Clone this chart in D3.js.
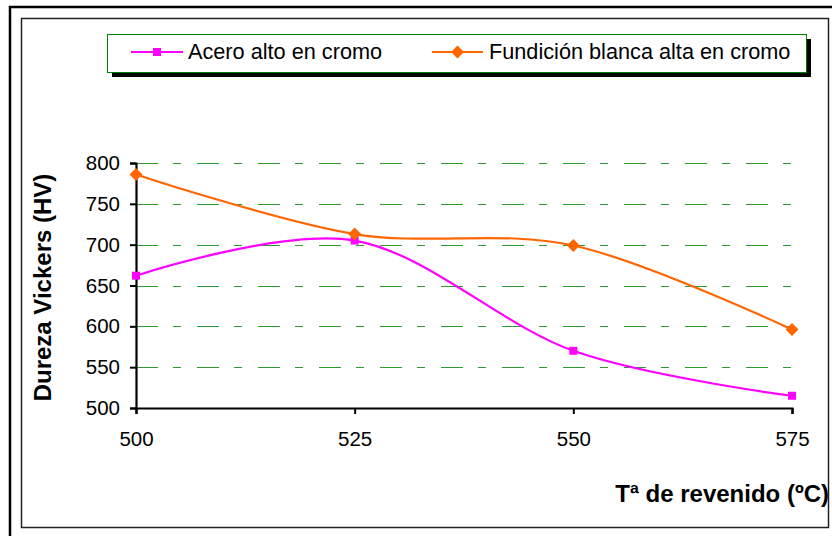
<!DOCTYPE html>
<html>
<head>
<meta charset="utf-8">
<script src="https://cdn.jsdelivr.net/npm/d3@7"></script>
<style>
  html, body { margin: 0; padding: 0; background: #fff; }
  svg { display: block; }
  text { font-family: "Liberation Sans", Arial, sans-serif; }
</style>
</head>
<body>
<svg id="chart" width="832" height="536"></svg>
<script>
// Tempering temperature (ºC) and Vickers hardness (HV)
const temps = [500, 525, 550, 575];
const aceroAltoCromo = [662, 705, 570, 515];
const fundicionBlanca = [786, 713, 699, 596];
const yTicks = [500, 550, 600, 650, 700, 750, 800];
const seriesNames = ["Acero alto en cromo", "Fundición blanca alta en cromo"];
const seriesColors = ["#ff00ff", "#ff6600"];

const svg = d3.select("#chart");

// chart frames
svg.append("rect").attr("x", 10).attr("y", 7).attr("width", 840).attr("height", 560)
  .attr("fill", "none").attr("stroke", "#000").attr("stroke-width", 2.5);
svg.append("rect").attr("x", 21.5).attr("y", 18.5).attr("width", 807).attr("height", 509)
  .attr("fill", "none").attr("stroke", "#222").attr("stroke-width", 1.5);

const x = d3.scaleLinear().domain([500, 575]).range([136, 792]);
const y = d3.scaleLinear().domain([500, 800]).range([408, 163]);

// horizontal gridlines
svg.append("g").selectAll("line").data(yTicks.filter(v => v > 500)).join("line")
  .attr("x1", x(500)).attr("x2", x(575) + 3)
  .attr("y1", d => Math.round(y(d)) + 0.5).attr("y2", d => Math.round(y(d)) + 0.5)
  .attr("stroke", "#2f9a2f").attr("stroke-width", 1.2)
  .attr("stroke-dasharray", "22,15,8,16");

// axes
const yAxis = d3.axisLeft(y).tickValues(yTicks).tickSize(6).tickPadding(10);
const gy = svg.append("g").attr("transform", `translate(${x(500)},0)`).call(yAxis);
gy.select(".domain").attr("stroke", "#000").attr("stroke-width", 2.2);
gy.selectAll(".tick line").attr("stroke", "#000").attr("stroke-width", 2);
gy.selectAll(".tick text").attr("font-size", 20.5).attr("fill", "#000")
  .attr("font-family", "Liberation Sans, Arial, sans-serif");

const xAxis = d3.axisBottom(x).tickValues(temps).tickSize(6).tickPadding(17).tickFormat(d3.format("d"));
const gx = svg.append("g").attr("transform", `translate(0,${y(500)})`).call(xAxis);
gx.select(".domain").attr("stroke", "#000").attr("stroke-width", 2.2);
gx.selectAll(".tick line").attr("stroke", "#000").attr("stroke-width", 2);
gx.selectAll(".tick text").attr("font-size", 20.5).attr("fill", "#000")
  .attr("font-family", "Liberation Sans, Arial, sans-serif");

// axis titles
svg.append("text")
  .attr("transform", `translate(51,${(y(500) + y(800)) / 2 + 2}) rotate(-90)`)
  .attr("text-anchor", "middle").attr("font-size", 24).attr("font-weight", "bold")
  .text("Dureza Vickers (HV)");
svg.append("text")
  .attr("x", 829).attr("y", 502).attr("text-anchor", "end")
  .attr("font-size", 24).attr("font-weight", "bold")
  .text("Tª de revenido (ºC)");

// smoothed series lines
const line = d3.line().x(d => x(d[0])).y(d => y(d[1])).curve(d3.curveCardinal.tension(0));
const series = [aceroAltoCromo, fundicionBlanca].map(vals => temps.map((t, i) => [t, vals[i]]));

series.forEach((pts, i) => {
  svg.append("path").datum(pts).attr("d", line)
    .attr("fill", "none").attr("stroke", seriesColors[i]).attr("stroke-width", 2.2);
});

const diamond = (cx, cy, w, h) => `M${cx},${cy - h}L${cx + w},${cy}L${cx},${cy + h}L${cx - w},${cy}Z`;

// markers
svg.append("g").selectAll("rect").data(series[0]).join("rect")
  .attr("x", d => x(d[0]) - 4).attr("y", d => y(d[1]) - 4)
  .attr("width", 8).attr("height", 8).attr("fill", seriesColors[0]);
svg.append("g").selectAll("path").data(series[1]).join("path")
  .attr("d", d => diamond(x(d[0]), y(d[1]), 6.5, 6.5)).attr("fill", seriesColors[1]);

// legend
const lg = svg.append("g");
lg.append("rect").attr("x", 112).attr("y", 39).attr("width", 699).attr("height", 38).attr("fill", "#000");
lg.append("rect").attr("x", 107.5).attr("y", 34.5).attr("width", 699).attr("height", 38)
  .attr("fill", "#fff").attr("stroke", "#008000").attr("stroke-width", 1);

const legendItems = [
  { x0: 131, x1: 183, tx: 188 },
  { x0: 432, x1: 483, tx: 489 }
];
legendItems.forEach((it, i) => {
  const cy = 52;
  lg.append("line").attr("x1", it.x0).attr("x2", it.x1).attr("y1", cy).attr("y2", cy)
    .attr("stroke", seriesColors[i]).attr("stroke-width", 2.2);
  const cx = (it.x0 + it.x1) / 2;
  if (i === 0) {
    lg.append("rect").attr("x", cx - 4).attr("y", cy - 4).attr("width", 8).attr("height", 8)
      .attr("fill", seriesColors[i]);
  } else {
    lg.append("path").attr("d", diamond(cx, cy, 6.5, 6.5)).attr("fill", seriesColors[i]);
  }
  lg.append("text").attr("x", it.tx).attr("y", 59).attr("font-size", 21.7).attr("fill", "#000")
    .text(seriesNames[i]);
});
</script>
</body>
</html>
